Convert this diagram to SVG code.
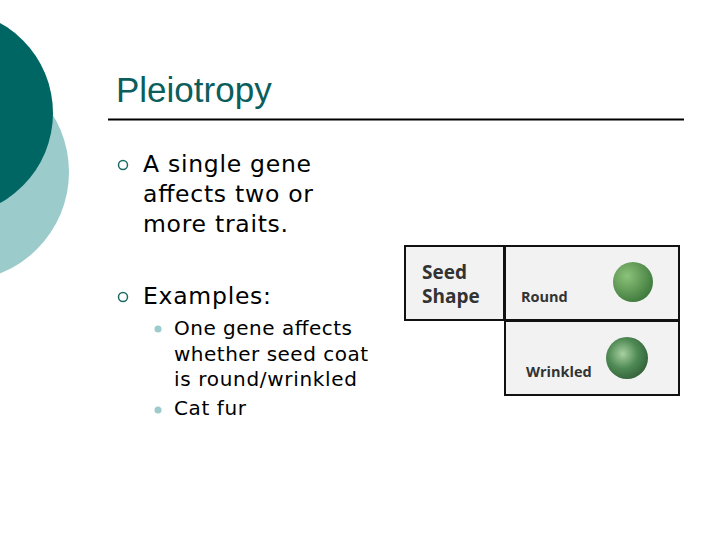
<svg xmlns="http://www.w3.org/2000/svg" width="720" height="540" viewBox="0 0 720 540">
<defs>
<style>
.t{font-family:"DejaVu Sans",Verdana,sans-serif;fill:#000}
.b{font-family:"Open Sans","DejaVu Sans",sans-serif;font-weight:bold;fill:#333}
.cell{fill:#f2f2f2;stroke:#111;stroke-width:2}
</style>
<radialGradient id="g1" cx="0.35" cy="0.35" r="0.7"><stop offset="0" stop-color="#8cc27a"/><stop offset="1" stop-color="#3f7a3c"/></radialGradient>
<radialGradient id="g2" cx="0.4" cy="0.4" r="0.7"><stop offset="0" stop-color="#a8d0a0"/><stop offset="0.5" stop-color="#4f8a55"/><stop offset="1" stop-color="#2d5a34"/></radialGradient>
</defs>
<rect width="720" height="540" fill="#fff"/>
<g id="decor">
<circle cx="-40" cy="172" r="109" fill="#9ccbcc"/>
<circle cx="-50" cy="113" r="103" fill="#006663"/>
</g>
<g id="title">
<text x="116" y="102" font-size="35" style="font-family:'Liberation Sans',Arial,sans-serif;fill:#0b5e5c">Pleiotropy</text>
<line x1="108" y1="119.500" x2="684" y2="119.500" stroke="#000" stroke-width="2"/>
</g>
<g id="bullets">
<circle cx="123" cy="165" r="4.500" fill="none" stroke="#1a6a67" stroke-width="1.500"/>
<text class="t" font-size="23.500" x="143" y="172" textLength="168">A single gene</text>
<text class="t" font-size="23.500" x="143" y="202" textLength="170">affects two or</text>
<text class="t" font-size="23.500" x="143" y="232" textLength="145">more traits.</text>
<circle cx="123" cy="297" r="4.500" fill="none" stroke="#1a6a67" stroke-width="1.500"/>
<text class="t" font-size="23.500" x="143" y="304" textLength="128">Examples:</text>
<circle cx="158" cy="329" r="3.500" fill="#9ccbcc"/>
<text class="t" font-size="20" x="174" y="335" textLength="178">One gene affects</text>
<text class="t" font-size="20" x="174" y="361" textLength="194">whether seed coat</text>
<text class="t" font-size="20" x="174" y="386" textLength="183">is round/wrinkled</text>
<circle cx="158" cy="410" r="3.500" fill="#9ccbcc"/>
<text class="t" font-size="20" x="174" y="415" textLength="72">Cat fur</text>
</g>
<g id="table">
<rect class="cell" x="405" y="246" width="99" height="74"/>
<rect class="cell" x="505" y="246" width="174" height="74"/>
<rect class="cell" x="505" y="321" width="174" height="74"/>
<text class="b" x="422" y="279" font-size="19">Seed</text>
<text class="b" x="422" y="303" font-size="19">Shape</text>
<text class="b" x="521" y="302" font-size="14.500">Round</text>
<text class="b" x="526" y="377" font-size="14.500">Wrinkled</text>
<circle cx="633" cy="282" r="20" fill="url(#g1)"/>
<circle cx="627" cy="358" r="21" fill="url(#g2)"/>
</g>
</svg>
